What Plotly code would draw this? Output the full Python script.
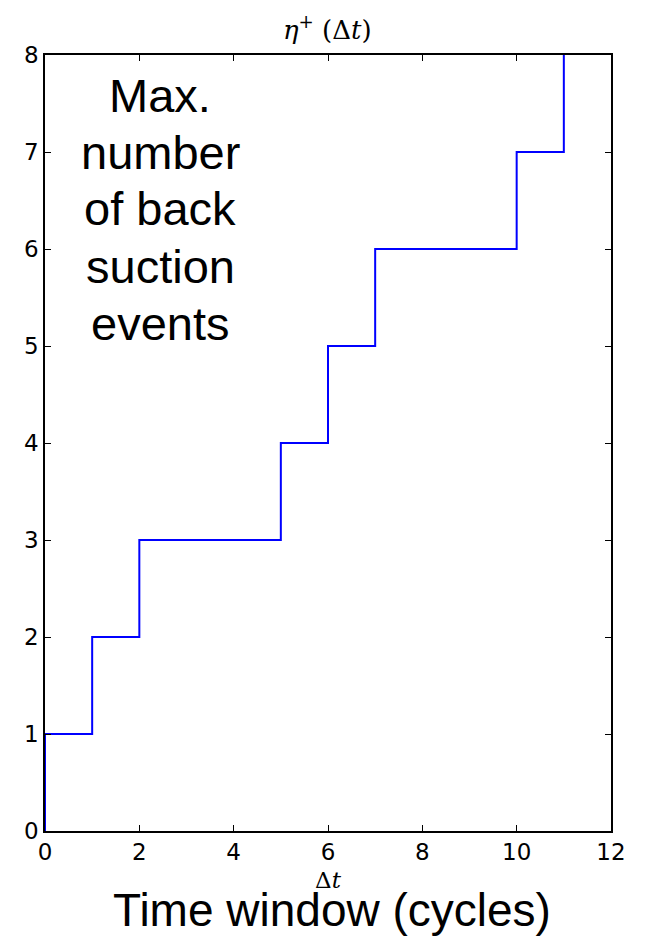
import plotly.graph_objects as go

# Step data: time window (cycles) vs max number of back suction events
step_times = [0, 0, 1, 2, 5, 6, 7, 10, 11]
max_events = [0, 1, 2, 3, 4, 5, 6, 7, 8]

x_ticks = [0, 2, 4, 6, 8, 10, 12]
y_ticks = [0, 1, 2, 3, 4, 5, 6, 7, 8]

label_lines = ["Max.", "number", "of back", "suction", "events"]

# page body has an 8px default margin; size the figure to fit the 645x940 window
BODY = 8
W, H = 645 - 2 * BODY, 940 - BODY
PLOT_L, PLOT_R, PLOT_T, PLOT_B = 45, 611, 55, 831
ML, MR = PLOT_L - BODY, (W + BODY) - PLOT_R
MT, MB = PLOT_T - BODY, (H + BODY) - PLOT_B
PW, PH = PLOT_R - PLOT_L, PLOT_B - PLOT_T


def px_x(x):
    return (x - PLOT_L) / PW


def px_y(y):
    return (PLOT_B - y) / PH


fig = go.Figure()
fig.add_trace(go.Scatter(
    x=step_times, y=max_events, mode="lines",
    line=dict(shape="hv", color="#0000ff", width=2),
    showlegend=False, hoverinfo="skip",
))

tickfont = dict(family="DejaVu Sans", size=23, color="black")
axis_common = dict(
    showgrid=False, zeroline=False, showline=True, linecolor="black", linewidth=1.5,
    mirror="ticks", ticks="inside", ticklen=6, tickwidth=1.2, tickcolor="black",
    tickfont=tickfont,
)
fig.update_xaxes(range=[0, 12], tickvals=x_ticks, ticktext=[str(v) for v in x_ticks], **axis_common)
fig.update_yaxes(range=[0, 8], tickvals=y_ticks, ticktext=[str(v) for v in y_ticks], **axis_common)

fig.add_annotation(
    text="<i>η</i><sup>+</sup> (Δ<i>t</i>)", xref="paper", yref="paper",
    x=px_x(327), y=px_y(28), xanchor="center", yanchor="middle",
    showarrow=False, font=dict(family="DejaVu Serif", size=26, color="black"),
)
fig.add_annotation(
    text="Δ<i>t</i>", xref="paper", yref="paper",
    x=0.5, y=px_y(880), xanchor="center", yanchor="middle",
    showarrow=False, font=dict(family="DejaVu Serif", size=23, color="black"),
)
fig.add_annotation(
    text="Time window (cycles)", xref="paper", yref="paper",
    x=px_x(332), y=px_y(910), xanchor="center", yanchor="middle",
    showarrow=False, font=dict(family="Liberation Sans", size=46, color="black"),
)
for i, line in enumerate(label_lines):
    fig.add_annotation(
        text=line, xref="paper", yref="paper",
        x=px_x(160), y=px_y(95 + 57 * i), xanchor="center", yanchor="middle",
        showarrow=False, font=dict(family="Liberation Sans", size=47, color="black"),
    )

fig.update_layout(
    width=W, height=H,
    margin=dict(l=ML, r=MR, t=MT, b=MB),
    paper_bgcolor="white", plot_bgcolor="white",
)
fig.write_html("out.html")
